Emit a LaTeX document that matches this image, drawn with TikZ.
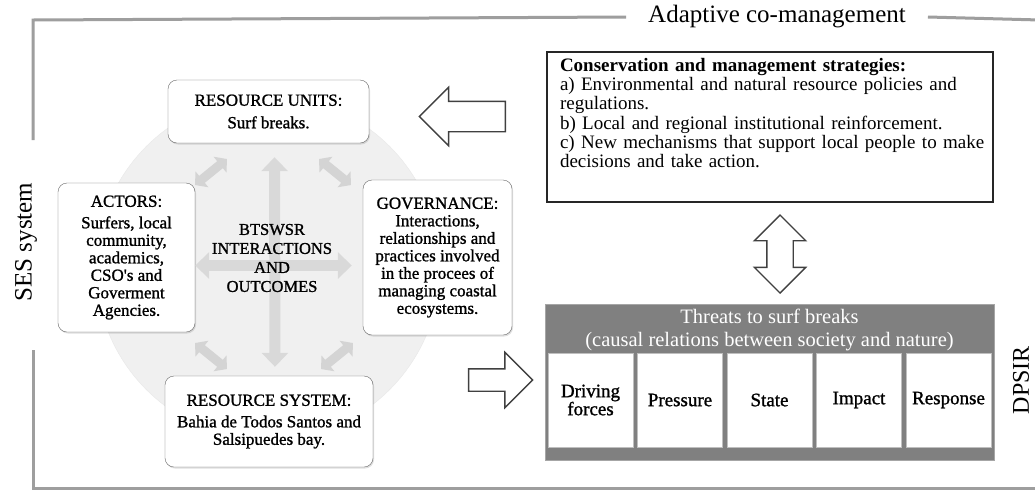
\documentclass[tikz,border=0pt]{standalone}
\usepackage{fontspec}
\setmainfont{Liberation Serif}
\newfontfamily\heavyfont[FakeBold=1.2]{Liberation Serif}
\usetikzlibrary{shapes,arrows,positioning,calc,arrows.meta,shadows}

\tikzset{
  frame/.style={draw=black!38, line width=3pt},
  partbox/.style={draw=black!60, fill=white, rounded corners=9pt, align=center,
    font=\heavyfont\fontsize{17}{17.5}\selectfont,
    drop shadow={opacity=0.25, shadow xshift=1pt, shadow yshift=-1.5pt}},
  hollow/.style={draw=black!75, line width=1.4pt, fill=white},
  soft/.style={draw=black!15, line width=11pt, {Triangle[width=26pt,length=14pt]}-{Triangle[width=26pt,length=14pt]}},
  nudge/.style={draw=black!17, line width=9pt, {Triangle[width=20pt,length=9pt]}-{Triangle[width=20pt,length=9pt]}},
  cell/.style={draw=black!25, fill=white, minimum width=85pt, minimum height=94pt, align=center,
    inner sep=2pt, font=\heavyfont\fontsize{19}{18}\selectfont}
}

\begin{document}
\begin{tikzpicture}[x=1pt, y=-1pt]
    \useasboundingbox[fill=white] (0,0) rectangle (1035,491);

    % Outer frame with its three labels
    \node[inner xsep=22pt, font=\fontsize{25}{25}\selectfont] (title) at (777,17) {Adaptive co-management};
    \node[rotate=90, font=\fontsize{25}{25}\selectfont] (ses) at (26,242) {SES system};
    \node[rotate=90, inner sep=0pt, font=\fontsize{24}{24}\selectfont] (dpsir) at (1021,380) {DPSIR};
    \coordinate (cornerTL) at (33,20);
    \coordinate (cornerTR) at (1040,20);
    \coordinate (cornerBL) at (33,488);
    \coordinate (cornerBR) at (1040,488);
    \draw[frame] (title.west) -- (cornerTL) -- (33,140);
    \draw[frame] (33,350) -- (cornerBL) -- (cornerBR);
    \draw[frame] (title.east) -- (cornerTR);

    % SES wheel
    \node[circle, minimum size=344pt, fill=black!6, draw=black!9, inner sep=0pt] (hub) at (268,268) {};
    \node[partbox, minimum width=201pt, minimum height=63pt] (units) at (268.5,111.5)
        {RESOURCE UNITS:\\[5pt] Surf breaks.};
    \node[partbox, minimum width=137pt, minimum height=149pt] (actors) at (126.5,257.5)
        {ACTORS:\\[4pt] Surfers, local\\ community,\\ academics,\\ CSO's and\\ Goverment\\ Agencies.};
    \node[partbox, minimum width=149pt, minimum height=155pt] (gov) at (437.5,257.5)
        {GOVERNANCE:\\ Interactions,\\ relationships and\\ practices involved\\ in the procees of\\ managing coastal\\ ecosystems.};
    \node[partbox, minimum width=208pt, minimum height=91pt] (system) at (269,421.5)
        {RESOURCE SYSTEM:\\[4pt] Bahia de Todos Santos and\\ Salsipuedes bay.};

    % Soft arrows inside the wheel
    \draw[soft, shorten <=14pt, shorten >=9pt] ([xshift=6pt]units.south) -- ([xshift=6pt]system.north);
    \draw[soft, shorten >=11pt] ([yshift=-8pt]actors.east) -- ([yshift=-8pt]gov.west);
    \coordinate (n1a) at (195,185); \coordinate (n1b) at (227,159);
    \coordinate (n2a) at (319,159); \coordinate (n2b) at (351,185);
    \coordinate (n3a) at (195,343); \coordinate (n3b) at (227,369);
    \coordinate (n4a) at (321,369); \coordinate (n4b) at (353,343);
    \foreach \i in {1,...,4} \draw[nudge] (n\i a) -- (n\i b);
    \node[align=center, font=\heavyfont\fontsize{16.5}{19}\selectfont] (core) at (272,258)
        {BTSWSR\\ INTERACTIONS\\ AND\\ OUTCOMES};

    % Strategies
    \node[draw=black!85, line width=1.6pt, minimum width=446pt, minimum height=150pt,
          inner xsep=13pt, text width=420pt, align=left, font=\fontsize{19}{19.2}\selectfont] (strat) at (770,127)
        {\textbf{Conservation and management strategies:}\\
         a) Environmental and natural resource policies and\\
         regulations.\\
         b) Local and regional institutional reinforcement.\\
         \mbox{c) New mechanisms that support local people to make}\\
         decisions and take action.\\[8.8pt]\mbox{}};

    % DPSIR block
    \node[fill=black!50, draw=black!35, minimum width=449pt, minimum height=156pt] (threats) at (769.5,382) {};
    \node[align=center, text=white, font=\fontsize{20.5}{23}\selectfont] (head) at (769.5,330)
        {Threats to surf breaks\\ (causal relations between society and nature)};
    \foreach \lbl [count=\i] in {{Driving\\forces},Pressure,State,Impact,Response}
        \node[cell] (cell\i) at (501+89.5*\i,400) {\lbl};

    % Hollow arrows
    \node[hollow, single arrow, shape border rotate=180, minimum height=86pt, inner sep=14.5pt,
          single arrow head extend=14pt] (toward) at (470,116.5) {};
    \node[hollow, double arrow, shape border rotate=90, minimum height=78pt, inner sep=12.5pt,
          double arrow head extend=12.5pt] (link) at (780,254) {};
    \node[hollow, single arrow, minimum height=64pt, inner sep=10.5pt,
          single arrow head extend=16.5pt] (feed) at (495,380) {};
\end{tikzpicture}
\end{document}
